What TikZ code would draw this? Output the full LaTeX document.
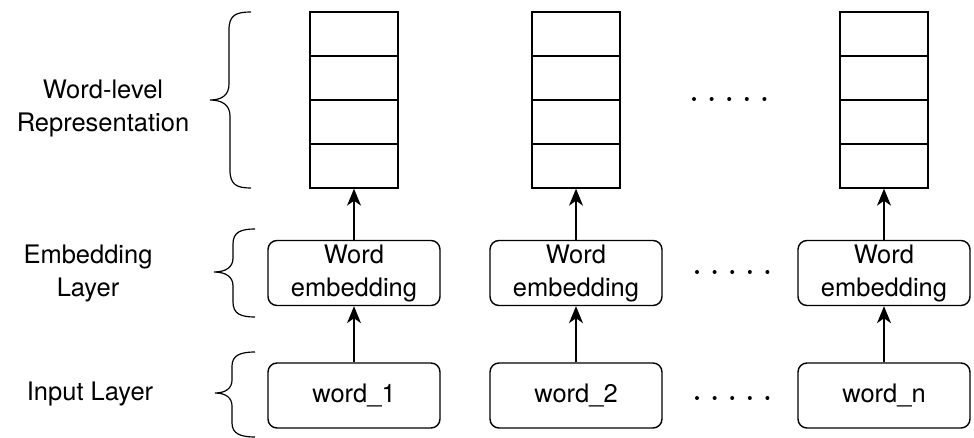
\documentclass[tikz,border=0pt]{standalone}
\usepackage{fontspec}
\setmainfont{TeX Gyre Heros}
\usetikzlibrary{arrows.meta}
\begin{document}
\begin{tikzpicture}[x=1pt,y=-1pt,
  line width=1.4pt,
  txt/.style={font=\fontsize{25.5}{33}\selectfont},
  lbl/.style={txt,align=center,inner sep=0pt},
  wordbox/.style={txt,draw,rounded corners=9pt,minimum width=172pt,minimum height=65pt,align=center,inner sep=0pt},
  cell/.style={draw,minimum width=88pt,minimum height=44pt,inner sep=0pt},
  up/.style={-{Stealth[length=17pt,width=14pt,inset=5pt]}},
  brc/.style={line width=1.2pt},
  dot/.style={circle,fill,inner sep=0pt,minimum size=4pt}
]
\useasboundingbox (0,0) rectangle (974,438);

% left-hand layer labels
\node[lbl] (lrep) at (103,108) {Word-level\\Representation};
\node[lbl] (lemb) at (88,273) {Embedding\\Layer};
\node[lbl] (linp) at (90,394) {Input Layer};

% curly braces
\draw[brc] (251,12) .. controls (236,12) and (229,15) .. (229,30) -- (229,84)
  .. controls (229,95) and (222,100) .. (210,100)
  .. controls (222,100) and (230,105) .. (230,116) -- (230,170)
  .. controls (230,185) and (237,188) .. (251,188);
\draw[brc] (255,229) .. controls (241,229) and (233,232) .. (233,244) -- (233,258)
  .. controls (233,267) and (226,272) .. (214,272)
  .. controls (226,272) and (233,277) .. (233,286) -- (233,302)
  .. controls (233,314) and (241,317) .. (255,317);
\draw[brc] (255,352) .. controls (241,352) and (232,355) .. (232,366) -- (232,380)
  .. controls (232,388) and (226,393) .. (215,393)
  .. controls (226,393) and (232,398) .. (232,406) -- (232,423)
  .. controls (232,434) and (241,437) .. (255,437);

% three columns: input word, its embedding, and the stacked representation
\foreach \i/\x/\w in {1/354/word\_1, 2/576/word\_2, 3/884/word\_n}{
  \node[wordbox] (in\i) at (\x,395.5) {\w};
  \node[wordbox] (emb\i) at (\x,273) {Word\\embedding};
  \node[cell] (c\i a) at (\x,34) {};
  \node[cell] (c\i b) at (\x,78) {};
  \node[cell] (c\i c) at (\x,122) {};
  \node[cell] (c\i d) at (\x,166) {};
  \draw[up] (in\i) -- (emb\i);
  \draw[up] (emb\i) -- (c\i d);
}

% ellipses between the second and last columns
\foreach \k/\y/\x in {t/99/694, m/272/697, b/398/697}{
  \foreach \j in {0,...,4}{
    \node[dot] (d\k\j) at (\x+17.6*\j,\y) {};
  }
}
\end{tikzpicture}
\end{document}
